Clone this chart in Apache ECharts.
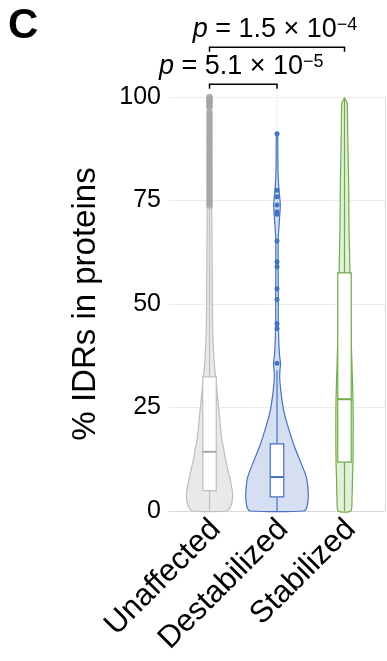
<!DOCTYPE html>
<html>
<head>
<meta charset="utf-8">
<script src="https://cdn.jsdelivr.net/npm/echarts@6/dist/echarts.min.js"></script>
<style>
html,body{margin:0;padding:0;background:#fff;}
#chart{width:387px;height:661px;}
</style>
</head>
<body>
<div id="chart"></div>
<script>
// ---------------- DATA ----------------
const categories = ['Unaffected', 'Destabilized', 'Stabilized'];
const yTicks = [0, 25, 50, 75, 100];

// box statistics: [lower whisker, Q1, median, Q3, upper whisker]
const unaffectedBox = [0, 4.9, 14.3, 32.4, 73];
const destabilizedBox = [0, 3.4, 8.2, 16.2, 34];
const stabilizedBox = [0, 11.8, 27, 57.5, 99.7];

// violin density profiles (value levels and relative density)
const unaffectedLevels = [0, 1, 3, 5, 7.5, 10, 12.5, 15, 17, 19.5, 23.5, 27, 31, 35, 39, 43, 47, 55, 65, 75, 85, 95, 100];
const unaffectedDensity = [17, 21, 23, 22.7, 20.7, 18.3, 16, 14.2, 12.5, 11.3, 9.8, 8.3, 6.7, 5, 4, 3.3, 3, 2.8, 2.5, 2.2, 2, 1.5, 1];

const destabilizedLevels = [0, 1, 3.5, 5.9, 8.3, 11.5, 15.5, 19.6, 23.7, 27.7, 31.6, 33.5, 35.7, 37.5, 39.7, 43.7, 48, 53, 60, 66, 70.5, 74, 77.5, 82, 88, 91];
const destabilizedDensity = [27, 30, 31.3, 30.8, 29.2, 24.2, 17.5, 12, 7.2, 4.5, 2.8, 2.8, 3.5, 2.6, 2, 1.5, 1.3, 1.3, 1.2, 1.3, 2.5, 3.3, 2, 1, 0.8, 0.5];

const stabilizedLevels = [0, 3, 8, 12, 20, 27, 35, 45, 57, 69, 78, 90, 96, 98.5, 99.7];
const stabilizedDensity = [6.3, 7.5, 8, 8.5, 8.7, 8.5, 7.5, 6.3, 5.5, 4.5, 4.2, 3.3, 3, 2.6, 0.4];

// outliers
const unaffectedOutliers = [73.8, 74.5, 75.3, 76, 76.8, 77.5, 78.3, 79, 79.8, 80.5, 81.3, 82, 82.8, 83.5, 84.3, 85, 85.8, 86.5, 87.3, 88, 88.8, 89.5, 90.3, 91, 91.8, 92.5, 93.3, 94, 94.8, 95.5, 96.3, 97.5, 98, 98.5, 99, 99.3, 99.6, 100];
const destabilizedOutliers = [35.7, 44.1, 45.3, 51.1, 53.7, 59.0, 60.2, 65.2, 71.7, 72.3, 73.9, 75.9, 77.5, 91.1];
const stabilizedOutliers = [];

// significance tests
const comparisonFrom = [0, 0];
const comparisonTo = [1, 2];
const comparisonMantissa = ['5.1', '1.5'];
const comparisonExponent = ['−5', '−4'];

// ---------------- LAYOUT / STYLE ----------------
const bracketLevels = [103.1, 112.0];
const bracketTick = 1.1;
const boxHalf = 0.1;
const densityPx = 67.5; // density units per category width
const palette = [
  {edge: '#bdbdbd', fill: '#e9e9e9', median: '#a9a9a9', dot: '#a6a6a6'},
  {edge: '#4472c4', fill: '#d6dff1', median: '#4472c4', dot: '#4472c4'},
  {edge: '#70ad47', fill: '#e2efda', median: '#70ad47', dot: '#70ad47'}
];
const FONT = "'Liberation Sans', Arial, Helvetica, sans-serif";

const levels = [unaffectedLevels, destabilizedLevels, stabilizedLevels];
const densities = [unaffectedDensity, destabilizedDensity, stabilizedDensity];
const boxes = [unaffectedBox, destabilizedBox, stabilizedBox];
const outliers = [unaffectedOutliers, destabilizedOutliers, stabilizedOutliers];

function renderViolin(params, api) {
  const i = api.value(0);
  const lv = levels[i], dn = densities[i], bx = boxes[i], col = palette[i];
  const unit = api.size([1, 0])[0];
  const k = unit / densityPx;
  const right = [], left = [];
  for (let j = 0; j < lv.length; j++) {
    const p = api.coord([i, lv[j]]);
    right.push([p[0] + dn[j] * k, p[1]]);
    left.unshift([p[0] - dn[j] * k, p[1]]);
  }
  const c0 = api.coord([i, 0]);
  const cTop = api.coord([i, 100]);
  const pLw = api.coord([i, bx[0]]);
  const pQ1 = api.coord([i, bx[1]]);
  const pMed = api.coord([i, bx[2]]);
  const pQ3 = api.coord([i, bx[3]]);
  const pUw = api.coord([i, bx[4]]);
  const hw = boxHalf * unit;
  return {
    type: 'group',
    children: [
      {type: 'line', shape: {x1: c0[0], y1: c0[1], x2: cTop[0], y2: cTop[1]}, style: {stroke: '#ebebeb', lineWidth: 1}, z2: 0},
      {type: 'polygon', shape: {points: right.concat(left), smooth: 0.25}, style: {fill: col.fill, stroke: col.edge, lineWidth: 1.2}, z2: 1},
      {type: 'line', shape: {x1: pLw[0], y1: pLw[1], x2: pQ1[0], y2: pQ1[1]}, style: {stroke: col.edge, lineWidth: 1.2}, z2: 2},
      {type: 'line', shape: {x1: pQ3[0], y1: pQ3[1], x2: pUw[0], y2: pUw[1]}, style: {stroke: col.edge, lineWidth: 1.2}, z2: 2},
      {type: 'rect', shape: {x: pQ3[0] - hw, y: pQ3[1], width: 2 * hw, height: pQ1[1] - pQ3[1]}, style: {fill: '#ffffff', stroke: col.edge, lineWidth: 1.2}, z2: 3},
      {type: 'line', shape: {x1: pMed[0] - hw, y1: pMed[1], x2: pMed[0] + hw, y2: pMed[1]}, style: {stroke: col.median, lineWidth: 2}, z2: 4}
    ]
  };
}

function renderBracket(params, api) {
  const idx = params.dataIndex;
  const a = api.value(0), b = api.value(1), lvl = api.value(2);
  const pa = api.coord([a, lvl]);
  const pb = api.coord([b, lvl]);
  const ta = api.coord([a, lvl - bracketTick]);
  const tb = api.coord([b, lvl - bracketTick]);
  return {
    type: 'group',
    children: [
      {type: 'polyline', shape: {points: [ta, pa, pb, tb]}, style: {stroke: '#000', lineWidth: 1.5, fill: null}},
      {type: 'text', x: (pa[0] + pb[0]) / 2 - 2, y: pa[1] - 18,
        style: {
          text: '{i|p} = ' + comparisonMantissa[idx] + ' × 10{s|' + comparisonExponent[idx] + '}',
          align: 'center', verticalAlign: 'middle',
          fontSize: 27, fontFamily: FONT, fill: '#000',
          rich: {
            i: {fontStyle: 'italic', fontSize: 27, fontFamily: FONT},
            s: {fontSize: 18, fontFamily: FONT, verticalAlign: 'top', lineHeight: 18}
          }
        }}
    ]
  };
}

const scatterSeries = outliers.map((arr, i) => ({
  type: 'scatter',
  data: arr.map(v => [i, v]),
  symbol: 'circle',
  symbolSize: i === 0 ? 6.5 : 5,
  itemStyle: {color: palette[i].dot, opacity: i === 0 ? 0.85 : 1},
  z: 5,
  silent: true
}));

const chart = echarts.init(document.getElementById('chart'), null, {renderer: 'canvas'});
chart.setOption({
  animation: false,
  backgroundColor: '#ffffff',
  textStyle: {fontFamily: FONT},
  title: {
    text: 'C', left: 3, top: 0,
    textStyle: {fontSize: 42, fontWeight: 'bold', color: '#000', fontFamily: FONT}
  },
  grid: {left: 169, right: 2, top: 97, bottom: 150, containLabel: false},
  xAxis: {
    type: 'value', min: -0.6, max: 2.6,
    axisLine: {show: true, lineStyle: {color: '#d9d9d9', width: 1}},
    axisTick: {show: false},
    splitLine: {show: false},
    axisLabel: {
      customValues: [0, 1, 2],
      formatter: v => categories[Math.round(v)],
      rotate: 45, fontSize: 31, color: '#000', margin: 20, fontFamily: FONT,
      padding: [0, -9, 0, 0]
    }
  },
  yAxis: [{
    type: 'value', min: 0, max: 100, interval: 25,
    name: '% IDRs in proteins', nameLocation: 'middle', nameGap: 67,
    nameTextStyle: {fontSize: 33, color: '#000', fontFamily: FONT},
    axisLine: {show: true, lineStyle: {color: '#c0c0c0', width: 1}},
    axisTick: {show: false},
    splitLine: {show: true, lineStyle: {color: '#ebebeb', width: 1}},
    axisLabel: {fontSize: 25, color: '#000', margin: 8, fontFamily: FONT,
      customValues: yTicks}
  }, {
    type: 'value', min: 0, max: 100, position: 'right',
    axisLine: {show: true, lineStyle: {color: '#d9d9d9', width: 1}},
    axisTick: {show: false}, axisLabel: {show: false}, splitLine: {show: false}
  }],
  series: [
    {
      type: 'custom',
      renderItem: renderViolin,
      data: categories.map((c, i) => [i]),
      encode: {x: 0},
      clip: false,
      z: 2,
      silent: true
    },
    ...scatterSeries,
    {
      type: 'custom',
      renderItem: renderBracket,
      data: comparisonFrom.map((f, i) => [f, comparisonTo[i], bracketLevels[i]]),
      encode: {x: [0, 1], y: 2},
      clip: false,
      z: 6,
      silent: true
    }
  ]
});
</script>
</body>
</html>
